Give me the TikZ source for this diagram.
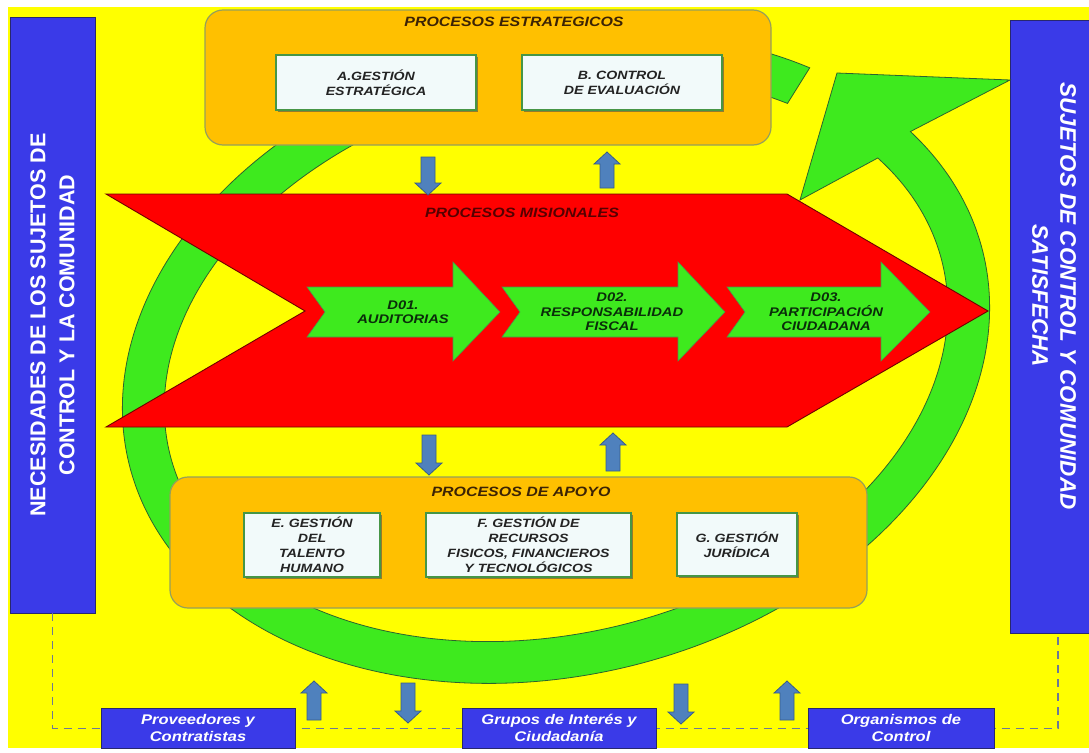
\documentclass[tikz,border=0pt]{standalone}
\usepackage{fontspec}
\setmainfont{Liberation Sans}[FakeStretch=1.18]
\newfontfamily\sidefont{Liberation Sans}
\usetikzlibrary{shadows}
\definecolor{bgyellow}{RGB}{255,255,0}
\definecolor{ringgreen}{RGB}{62,234,30}
\definecolor{ringline}{RGB}{45,100,45}
\definecolor{orangefill}{RGB}{255,192,0}
\definecolor{orangeline}{RGB}{150,160,90}
\definecolor{wfill}{RGB}{242,250,250}
\definecolor{wline}{RGB}{70,150,70}
\definecolor{redfill}{RGB}{255,0,0}
\definecolor{redline}{RGB}{110,0,0}
\definecolor{arrblue}{RGB}{79,129,189}
\definecolor{arrblueline}{RGB}{56,93,138}
\definecolor{boxblue}{RGB}{58,58,232}
\definecolor{boxblueline}{RGB}{40,40,110}
\definecolor{txtdark}{RGB}{35,35,35}
\definecolor{txtbrown}{RGB}{60,35,5}
\definecolor{txtmis}{RGB}{85,0,0}
\definecolor{txtgreen}{RGB}{10,45,10}
\definecolor{dashgrey}{RGB}{110,120,150}
\newcommand{\garrow}[3]{\draw[garrowst] (#1,287) -- (#2,287) -- (#2,262) -- (#3,312) -- (#2,361) -- (#2,337) -- (#1,337) -- ({#1+18},312) -- cycle;}
\newcommand{\bdown}[3]{\draw[barrow] ({#1-7},#2) -- ({#1+7},#2) -- ({#1+7},{#3-12}) -- ({#1+13},{#3-12}) -- (#1,#3) -- ({#1-13},{#3-12}) -- ({#1-7},{#3-12}) -- cycle;}
\newcommand{\bup}[3]{\draw[barrow] ({#1-7},#3) -- ({#1+7},#3) -- ({#1+7},{#2+12}) -- ({#1+13},{#2+12}) -- (#1,#2) -- ({#1-13},{#2+12}) -- ({#1-7},{#2+12}) -- cycle;}
\begin{document}
\begin{tikzpicture}[x=1pt,y=-1pt,
  orangebox/.style={draw=orangeline, line width=1.2pt, fill=orangefill, rounded corners=18pt, inner sep=0pt},
  wbox/.style={draw=wline, line width=1.3pt, fill=wfill, inner sep=0pt, align=center, text=txtdark,
     font=\fontsize{12}{15}\selectfont\bfseries\itshape,
     drop shadow={shadow xshift=2pt, shadow yshift=-2pt, fill=black!70, opacity=0.6}},
  ptitle/.style={font=\fontsize{13.5}{16}\selectfont\bfseries\itshape, text=txtbrown, inner sep=0pt},
  garrowst/.style={fill=ringgreen, draw=green!40!black!70, line width=0.6pt},
  gtext/.style={font=\fontsize{12.5}{14.5}\selectfont\bfseries\itshape, text=txtgreen, align=center, inner sep=0pt},
  barrow/.style={fill=arrblue, draw=arrblueline, line width=0.8pt},
  sidebox/.style={fill=boxblue, draw=boxblueline, line width=0.8pt, inner sep=0pt},
  sidetxt/.style={text=white, align=center, inner sep=0pt},
  bbox/.style={fill=boxblue, draw=boxblueline, line width=0.6pt, inner sep=0pt, align=center, text=white,
     font=\fontsize{14}{17}\selectfont\bfseries\itshape},
  dashline/.style={draw=dashgrey, line width=1.6pt, dash pattern=on 8pt off 6pt}
]
\useasboundingbox (0,0) rectangle (1089,752);
\fill[white] (0,0) rectangle (1089,752);
\fill[bgyellow] (8,7) rectangle (1089,748);

% side boxes
\node[sidebox, minimum width=85pt, minimum height=596pt] (lbox) at (52.5,315) {};
\node[sidebox, minimum width=96pt, minimum height=613pt] (rbox) at (1058,326.5) {};
\node[sidetxt, rotate=90, font=\sidefont\fontsize{21.5}{29}\selectfont\bfseries] (ltxt) at (52.5,325)
  {NECESIDADES DE LOS SUJETOS DE\\CONTROL Y LA COMUNIDAD};
\node[sidetxt, rotate=-90, font=\sidefont\fontsize{22.5}{28}\selectfont\bfseries\itshape] (rtxt) at (1054,296)
  {SUJETOS DE CONTROL Y COMUNIDAD\\SATISFECHA};

% dashed link
\draw[dashline] (lbox.south) -- ++(0,115) -| (rbox.south);

% circular green arrow
\filldraw[fill=ringgreen, draw=ringline, line width=0.8pt]
  plot[domain=-316:25, samples=240, smooth]
    ({556+440*cos(\x)*0.970-317*sin(\x)*0.242},{358-440*cos(\x)*0.242-317*sin(\x)*0.970})
  -- (1010,80) -- (837,73) -- (800,200)
  -- plot[domain=-25:316, samples=240, smooth]
    ({556+398*cos(\x)*0.970+275*sin(\x)*0.242},{358-398*cos(\x)*0.242+275*sin(\x)*0.970})
  -- cycle;

% top box
\node[orangebox, minimum width=566pt, minimum height=135pt] (top) at (488,77.5) {};
\node[ptitle] (tEst) at (514,22) {PROCESOS ESTRATEGICOS};
\node[wbox, minimum width=200pt, minimum height=55pt] (boxA) at (376,82.5) {A.GESTIÓN\\ESTRATÉGICA};
\node[wbox, minimum width=200pt, minimum height=55pt] (boxB) at (622,82.5) {B. CONTROL\\DE EVALUACIÓN};

% red chevron
\draw[fill=redfill, draw=redline, line width=0.9pt]
  (106,194) -- (787,194) -- (988,311) -- (787,427) -- (106,427) -- (305,311) -- cycle;
\node[ptitle, text=txtmis] (tMis) at (522,213) {PROCESOS MISIONALES};

% green process arrows
\garrow{307}{453}{500}
\garrow{502}{678}{725}
\garrow{727}{881}{930}
\node[gtext] (d1) at (403,312) {D01.\\AUDITORIAS};
\node[gtext] (d2) at (612,312) {D02.\\RESPONSABILIDAD\\FISCAL};
\node[gtext] (d3) at (826,312) {D03.\\PARTICIPACIÓN\\CIUDADANA};

% blue small arrows
\bdown{428}{157}{195}
\bup{607}{152}{188}
\bdown{429}{435}{475}
\bup{613}{433}{471}

% bottom box
\node[orangebox, minimum width=697pt, minimum height=131pt] (bot) at (518.5,542.5) {};
\node[ptitle] (tApo) at (521,492) {PROCESOS DE APOYO};
\node[wbox, minimum width=136pt, minimum height=64pt] (boxE) at (312,545) {E. GESTIÓN\\DEL\\TALENTO\\HUMANO};
\node[wbox, minimum width=205pt, minimum height=64pt] (boxF) at (528.5,545) {F. GESTIÓN DE\\RECURSOS\\FISICOS, FINANCIEROS\\Y TECNOLÓGICOS};
\node[wbox, minimum width=120pt, minimum height=63pt] (boxG) at (737,544.5) {G. GESTIÓN\\JURÍDICA};

% bottom stakeholder boxes
\node[bbox, minimum width=194pt, minimum height=40pt] (prov) at (198,728) {Proveedores y\\Contratistas};
\node[bbox, minimum width=194pt, minimum height=40pt] (grup) at (559,728) {Grupos de Interés y\\Ciudadanía};
\node[bbox, minimum width=186pt, minimum height=40pt] (orga) at (901,728) {Organismos de\\Control};

\bup{314}{681}{720}
\bdown{408}{683}{723}
\bdown{681}{684}{724}
\bup{787}{681}{720}
\end{tikzpicture}
\end{document}
